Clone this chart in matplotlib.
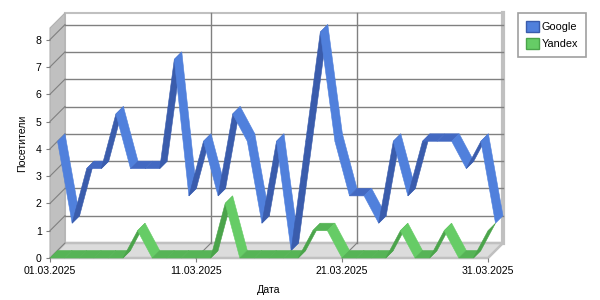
import matplotlib
matplotlib.use("Agg")
import matplotlib.pyplot as plt
from matplotlib.patches import Polygon, Patch

# visits per day, March 2025
days = list(range(1, 32))
google = [4, 1, 3, 3, 5, 3, 3, 3, 7, 2, 4, 2, 5, 4, 1, 4, 0, 4, 8, 4, 2, 2, 1, 4, 2, 4, 4, 4, 3, 4, 1]
yandex = [0, 0, 0, 0, 0, 0, 1, 0, 0, 0, 0, 0, 2, 0, 0, 0, 0, 0, 1, 1, 0, 0, 0, 0, 1, 0, 0, 1, 0, 0, 1]
tick_days = [1, 11, 21, 31]
tick_labels = ["01.03.2025", "11.03.2025", "21.03.2025", "31.03.2025"]

plt.rcParams['font.family'] = ['Liberation Sans', 'DejaVu Sans']
plt.rcParams['font.size'] = 7.6

fig = plt.figure(figsize=(6, 3), dpi=100)
ax = fig.add_axes([50 / 600, 42 / 300, 438 / 600, 230 / 300])
YMAX = 230 / 27.3
ax.set_xlim(1, 31)
ax.set_ylim(0, YMAX)

# depth of the fake 3d box, in data units (15 px each way)
DX = 15 / 14.6
DY = 15 / 27.3

grid_c = '#808080'
wall_c = '#c0c0c0'
floor_c = '#dcdcdc'

def poly(pts, **kw):
    p = Polygon(pts, closed=True, clip_on=False, **kw)
    ax.add_patch(p)
    return p

# back wall, side wall, floor
poly([(1 + DX, DY), (31 + DX, DY), (31 + DX, YMAX + DY), (1 + DX, YMAX + DY)],
     facecolor='white', edgecolor=wall_c, lw=1.5, zorder=1)
poly([(1, 0), (1 + DX, DY), (1 + DX, YMAX + DY), (1, YMAX)],
     facecolor=wall_c, edgecolor='#b0b0b0', lw=0.8, zorder=1)
poly([(1, 0), (31, 0), (31 + DX, DY), (1 + DX, DY)],
     facecolor=floor_c, edgecolor=wall_c, lw=1.8, zorder=1)
ax.plot([31 + DX, 31 + DX], [DY, YMAX + DY], color=wall_c, lw=3, clip_on=False, zorder=1)

# grid on the walls
for k in range(0, 9):
    ax.plot([1, 1 + DX], [k, k + DY], color=grid_c, lw=0.8, clip_on=False, zorder=2)
    if k > 0:
        ax.plot([1 + DX, 31 + DX], [k + DY, k + DY], color=grid_c, lw=1, clip_on=False, zorder=2)
for d in tick_days[1:3]:
    ax.plot([d + DX, d + DX], [DY, YMAX + DY], color=grid_c, lw=1, clip_on=False, zorder=2)
    ax.plot([d, d + DX], [0, DY], color=grid_c, lw=0.8, clip_on=False, zorder=2)


def ribbon(values, z0, z1, light, dark, mid, z):
    for i in range(len(values) - 1):
        a, b = values[i], values[i + 1]
        c = dark if b > a else (light if b < a else mid)
        pts = [(days[i] + z0 * DX, a + z0 * DY), (days[i + 1] + z0 * DX, b + z0 * DY),
               (days[i + 1] + z1 * DX, b + z1 * DY), (days[i] + z1 * DX, a + z1 * DY)]
        poly(pts, facecolor=c, edgecolor=c, lw=0.4, zorder=z)


ribbon(google, 0.5, 1.0, '#5080dc', '#3a5cac', '#4369c2', 3)
ribbon(yandex, 0.0, 0.5, '#66cc66', '#4ba44b', '#56b456', 4)

ax.set_xticks(tick_days)
ax.set_xticklabels(tick_labels)
ax.set_yticks(range(0, 9))
ax.tick_params(length=3, width=0.8, color=grid_c, pad=3)
for s in ax.spines.values():
    s.set_visible(False)
ax.set_xlabel('Дата', labelpad=6.5)
ax.set_ylabel('Посетители', labelpad=6.5)

handles = [Patch(facecolor='#5080dc', edgecolor='#3a5cac', label='Google'),
           Patch(facecolor='#66cc66', edgecolor='#4ba44b', label='Yandex')]
leg = fig.legend(handles=handles, loc='upper left', bbox_to_anchor=(518 / 600, 1 - 13 / 300),
                 frameon=True, fancybox=False, framealpha=1, borderaxespad=0,
                 handlelength=1.15, handleheight=1.2, handletextpad=0.3,
                 borderpad=0.75, labelspacing=0.5, fontsize=7.8)
leg.get_frame().set_edgecolor('#a0a0a0')
leg.get_frame().set_linewidth(1.2)

fig.savefig('out.png', dpi=100)
